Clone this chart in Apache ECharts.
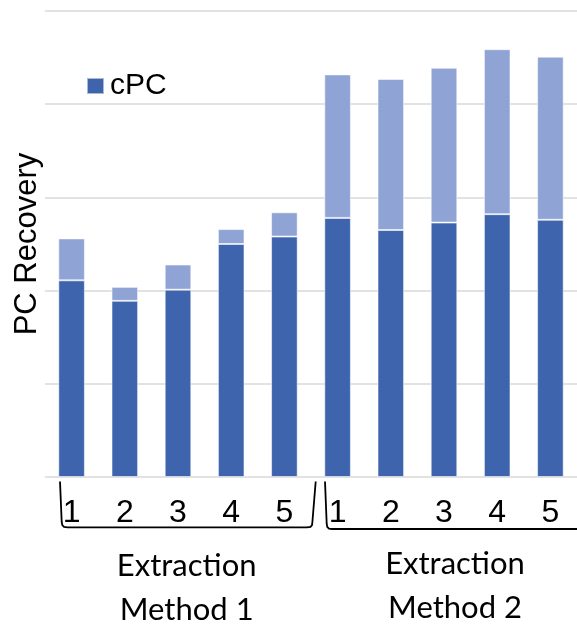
<!DOCTYPE html>
<html>
<head>
<meta charset="utf-8">
<script src="https://cdn.jsdelivr.net/npm/echarts@6/dist/echarts.min.js"></script>
<style>
html,body{margin:0;padding:0;background:#fff;}
#chart{width:577px;height:628px;}
</style>
</head>
<body>
<div id="chart"></div>
<script>
// Data
var categories = ['1','2','3','4','5','1','2','3','4','5'];
var cPC = [2.11, 1.89, 2.01, 2.50, 2.58, 2.78, 2.65, 2.73, 2.82, 2.76];
var otherPC = [0.45, 0.15, 0.27, 0.16, 0.26, 1.54, 1.62, 1.66, 1.77, 1.75];
var yTicks = [0, 1, 2, 3, 4, 5];
var groupLabels = ['Extraction\nMethod 1', 'Extraction\nMethod 2'];

var chart = echarts.init(document.getElementById('chart'), null, {renderer:'canvas'});
var sans = "'Liberation Sans', Arial, sans-serif";
var option = {
  animation: false,
  backgroundColor: '#ffffff',
  grid: {left: 45, top: 11, width: 535, height: 466, containLabel: false},
  legend: {
    data: ['cPC'],
    left: 81, top: 66,
    itemWidth: 17, itemHeight: 16,
    icon: 'rect',
    textStyle: {fontFamily: sans, fontSize: 30, color: '#000', padding: [0,0,0,1]}
  },
  xAxis: {
    type: 'category',
    data: categories,
    axisLine: {show: false},
    axisTick: {show: false},
    axisLabel: {fontFamily: sans, fontSize: 32, color: '#000', margin: 20, lineHeight: 32, interval: 0}
  },
  yAxis: {
    type: 'value',
    min: yTicks[0], max: yTicks[yTicks.length-1], interval: 1,
    name: 'PC Recovery',
    nameLocation: 'middle',
    nameRotate: 90,
    nameGap: 2,
    nameTextStyle: {fontFamily: sans, fontSize: 31, color: '#000'},
    axisLabel: {show: false},
    axisLine: {show: false},
    axisTick: {show: false},
    splitLine: {lineStyle: {color: '#d9d9d9', width: 1.5}}
  },
  series: [
    {
      name: 'cPC', type: 'bar', stack: 'pc', barWidth: '50%',
      data: cPC,
      itemStyle: {color: '#3e64ad', borderColor: 'rgba(255,255,255,0.55)', borderWidth: 1}
    },
    {
      name: 'PC', type: 'bar', stack: 'pc', barWidth: '50%',
      data: otherPC,
      itemStyle: {color: '#8fa4d4', borderColor: 'rgba(255,255,255,0.55)', borderWidth: 1}
    }
  ],
  graphic: [
    {type: 'polyline', silent: true,
     shape: {points: [[60,481.5],[61.7,522],[62.3,525],[64,526.8],[67.5,527.3],[307,527.3],[310.5,526.8],[312,525],[312.4,522],[315.7,481.5]]},
     style: {fill: null, stroke: '#000', lineWidth: 1.8}},
    {type: 'polyline', silent: true,
     shape: {points: [[325,481.5],[326.7,524],[327.3,527],[329,528.6],[332,529],[580,529]]},
     style: {fill: null, stroke: '#000', lineWidth: 1.8}},
    {type: 'text', silent: true, x: 186.7, y: 588,
     style: {text: groupLabels[0], fontFamily: 'Lato, sans-serif', fontSize: 31, lineHeight: 44, fill: '#000', align: 'center', verticalAlign: 'middle'}},
    {type: 'text', silent: true, x: 455, y: 586,
     style: {text: groupLabels[1], fontFamily: 'Lato, sans-serif', fontSize: 31, lineHeight: 44, fill: '#000', align: 'center', verticalAlign: 'middle'}}
  ]
};
chart.setOption(option);
</script>
</body>
</html>
